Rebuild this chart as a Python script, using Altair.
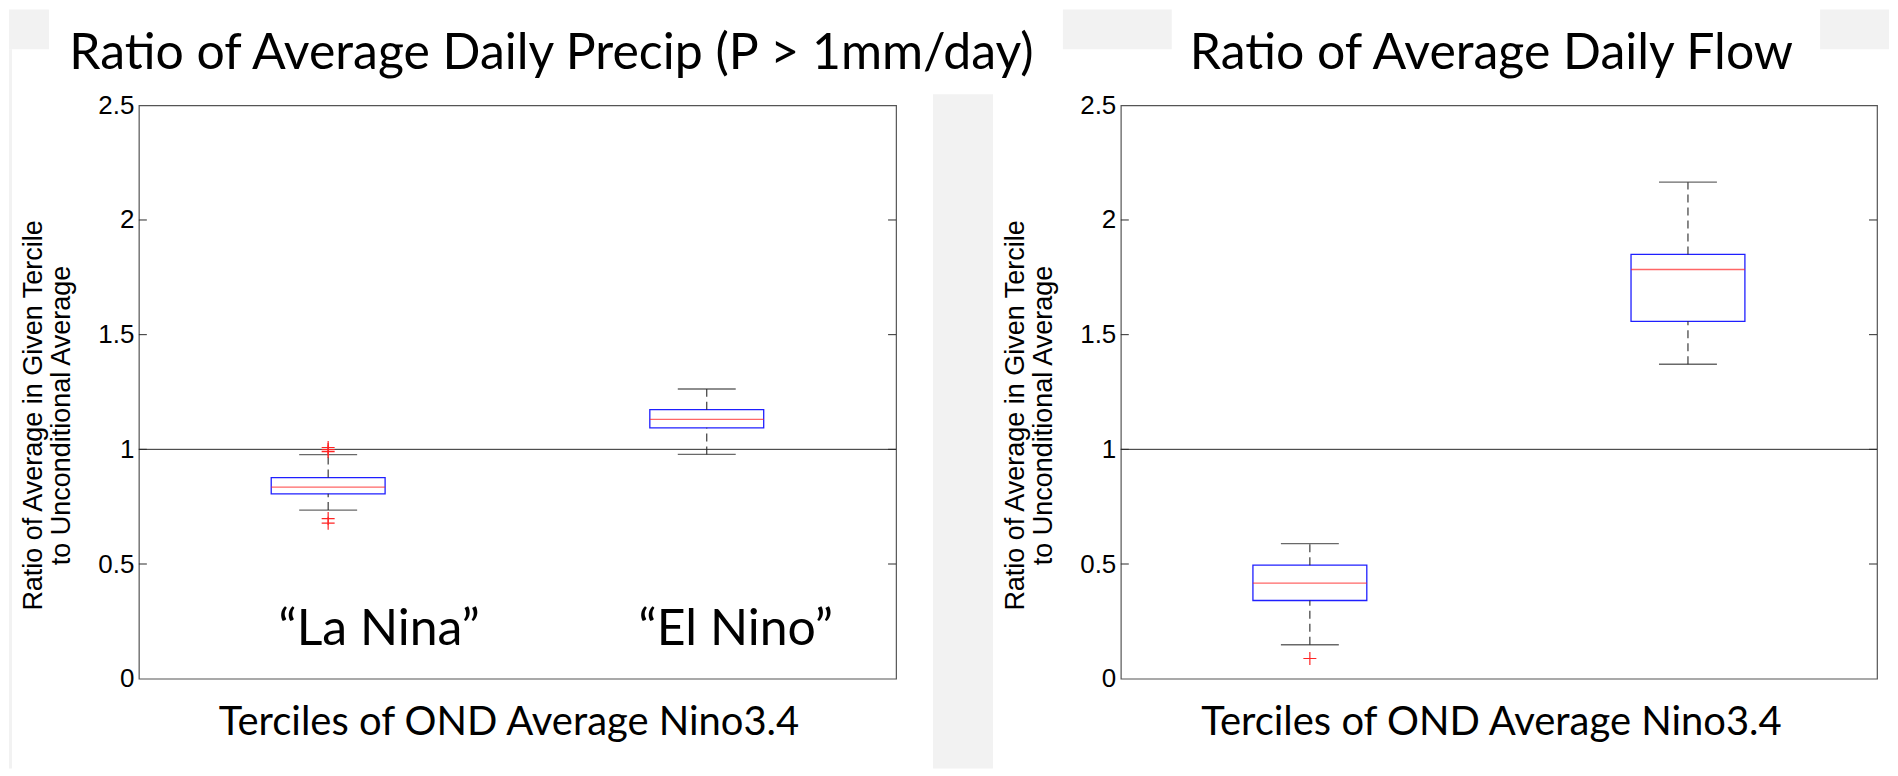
import altair as alt
import pandas as pd

# ---------------- data ----------------
CATEGORIES = ["LOW", "HI"]

PRECIP_WHISKER_LOW = [0.735, 0.978]
PRECIP_Q1 = [0.806, 1.094]
PRECIP_MEDIAN = [0.835, 1.131]
PRECIP_Q3 = [0.877, 1.173]
PRECIP_WHISKER_HIGH = [0.977, 1.263]
PRECIP_OUTLIER_CAT = ["LOW", "LOW", "LOW", "LOW", "LOW"]
PRECIP_OUTLIER_VAL = [1.008, 0.999, 0.990, 0.698, 0.678]

FLOW_WHISKER_LOW = [0.148, 1.371]
FLOW_Q1 = [0.341, 1.558]
FLOW_MEDIAN = [0.417, 1.784]
FLOW_Q3 = [0.495, 1.850]
FLOW_WHISKER_HIGH = [0.589, 2.165]
FLOW_OUTLIER_CAT = ["LOW"]
FLOW_OUTLIER_VAL = [0.088]

ANNOT_CAT = ["LOW", "HI"]
ANNOT_TEXT = ["\u201cLa Nina\u201d", "\u201cEl Nino\u201d"]
ANNOT_Y = [0.145, 0.145]

Y_TICKS = [0, 0.5, 1, 1.5, 2, 2.5]
INNER_TICKS = [0.5, 1, 1.5, 2]
REFERENCE_LEVEL = [1]

TITLE_LEFT = "Ratio of Average Daily Precip (P > 1mm/day)"
TITLE_RIGHT = "Ratio of Average Daily Flow"
X_TITLE = "Terciles of OND Average Nino3.4"
Y_TITLE = ["Ratio of Average in Given Tercile", "to Unconditional Average"]

# ---------------- styling ----------------
H = 574
GREY = "#f2f2f2"
BLUE = "#1f1fff"
RED = "#ff2525"
DARK = "#2a2a2a"

yscale = alt.Scale(domain=[0, 2.5], nice=False, zero=False)
xscale = alt.Scale(domain=CATEGORIES, paddingInner=0, paddingOuter=0)
DUMMY = pd.DataFrame({"k": [0]})

AXIS_Y = alt.Axis(
    values=Y_TICKS, format="~g", ticks=False, domain=False, grid=False,
    labelFont="Liberation Sans", labelFontSize=26, labelColor="black",
    labelPadding=5, title=Y_TITLE, titleFont="Liberation Sans",
    titleFontSize=27, titleFontWeight="normal", titleColor="black",
    titleLineHeight=28, titlePadding=22, titleY=H / 2 + 23)


def axis_x(width, shift):
    return alt.Axis(
        labels=False, ticks=False, domain=False, grid=False,
        title=X_TITLE, titleFont="Lato", titleFontSize=40,
        titleFontWeight="normal", titleColor="black", titlePadding=24,
        titleX=width / 2 + shift)


def grey_rect(x1, x2, y1, y2):
    return alt.Chart(DUMMY).mark_rect(color=GREY).encode(
        x=alt.value(x1), x2=alt.value(x2), y=alt.value(y1), y2=alt.value(y2)
    )


def panel(wlo, q1, med, q3, whi, out_cat, out_val, title, width, title_cx,
          xtitle_shift, rects, annot_dx=None):
    box_df = pd.DataFrame({"cat": CATEGORIES, "wlo": wlo, "q1": q1,
                           "med": med, "q3": q3, "whi": whi})
    out_df = pd.DataFrame({"cat": out_cat, "val": out_val})
    ax_x = axis_x(width, xtitle_shift)

    def X():
        return alt.X("cat:N", scale=xscale, axis=ax_x)

    def Y(field):
        return alt.Y(field, scale=yscale, axis=AXIS_Y)

    layers = [grey_rect(*r) for r in rects]

    ref = alt.Chart(pd.DataFrame({"ref": REFERENCE_LEVEL})).mark_rule(
        color=DARK, strokeWidth=1).encode(y=Y("ref:Q"))

    ticks_l = alt.Chart(pd.DataFrame({"v": INNER_TICKS})).mark_rule(
        color=DARK, strokeWidth=1).encode(
        y=Y("v:Q"), x=alt.value(0), x2=alt.value(8))
    ticks_r = alt.Chart(pd.DataFrame({"v": INNER_TICKS})).mark_rule(
        color=DARK, strokeWidth=1).encode(
        y=Y("v:Q"), x=alt.value(width - 8), x2=alt.value(width))

    base = alt.Chart(box_df)
    box = base.mark_bar(size=114, fillOpacity=0, stroke=BLUE,
                        strokeWidth=1.3).encode(x=X(), y=Y("q1:Q"), y2="q3:Q")
    wl = base.mark_rule(color=DARK, strokeDash=[8, 5], strokeWidth=1.1).encode(
        x=X(), y=Y("wlo:Q"), y2="q1:Q")
    wh = base.mark_rule(color=DARK, strokeDash=[8, 5], strokeWidth=1.1).encode(
        x=X(), y=Y("q3:Q"), y2="whi:Q")
    cap_lo = base.mark_tick(size=58, thickness=1.4, color=DARK).encode(
        x=X(), y=Y("wlo:Q"))
    cap_hi = base.mark_tick(size=58, thickness=1.4, color=DARK).encode(
        x=X(), y=Y("whi:Q"))
    median = base.mark_tick(size=114, thickness=1.3, color=RED).encode(
        x=X(), y=Y("med:Q"))
    outl = alt.Chart(out_df).mark_point(
        shape="M-1,0L1,0M0,-1L0,1", size=169, filled=False, color=RED,
        strokeWidth=1.2, opacity=1).encode(x=X(), y=Y("val:Q"))

    layers += [box, ref, ticks_l, ticks_r, wl, wh, cap_lo, cap_hi, median, outl]

    if annot_dx is not None:
        for i, dx in enumerate(annot_dx):
            adf = pd.DataFrame({"cat": [ANNOT_CAT[i]], "text": [ANNOT_TEXT[i]],
                                "y": [ANNOT_Y[i]]})
            txt = alt.Chart(adf).mark_text(
                font="Lato", fontSize=50, baseline="alphabetic", align="center",
                dx=dx, color="black").encode(x=X(), y=Y("y:Q"), text="text:N")
            layers.append(txt)

    ttl = alt.Chart(pd.DataFrame({"t": [title]})).mark_text(
        font="Lato", fontSize=50, baseline="alphabetic", align="center",
        color="black").encode(x=alt.value(title_cx), y=alt.value(-36), text="t:N")
    layers.append(ttl)

    return alt.layer(*layers).properties(width=width, height=H)


left = panel(PRECIP_WHISKER_LOW, PRECIP_Q1, PRECIP_MEDIAN, PRECIP_Q3,
             PRECIP_WHISKER_HIGH, PRECIP_OUTLIER_CAT, PRECIP_OUTLIER_VAL,
             TITLE_LEFT, 758, 413, -9,
             [(-130, -90, -96, -56), (-130, -127, -56, 664),
              (925, 1034, -96, -56), (795, 855, -11, 664)],
             annot_dx=[51, 29])

right = panel(FLOW_WHISKER_LOW, FLOW_Q1, FLOW_MEDIAN, FLOW_Q3,
              FLOW_WHISKER_HIGH, FLOW_OUTLIER_CAT, FLOW_OUTLIER_VAL,
              TITLE_RIGHT, 757, 371, -8,
              [(700, 769, -96, -56)])

chart = alt.hconcat(left, right, spacing=225, bounds="flush").properties(
    padding={"left": 0, "top": 0, "right": 0, "bottom": 0}
).configure(background="white").configure_view(stroke="#555", strokeWidth=1.2)

chart.save("out.html", embed_options={"renderer": "svg", "actions": False})
